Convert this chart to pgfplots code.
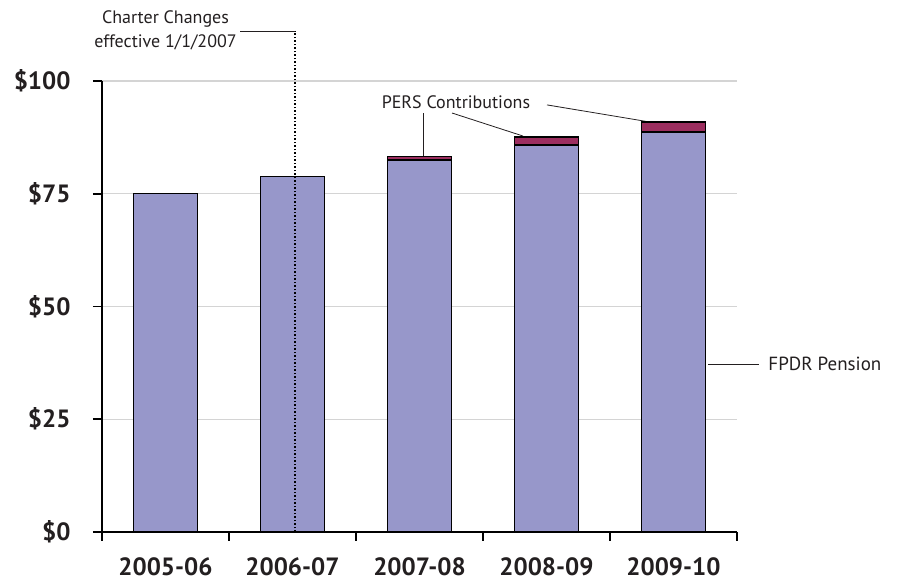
\documentclass[border=0pt]{standalone}
\usepackage{fontspec}
\setmainfont{PT Sans}
\usepackage{pgfplots}
\pgfplotsset{compat=1.18}
\definecolor{fpdr}{HTML}{9797CA}
\definecolor{pers}{HTML}{9C2E5F}
\definecolor{txt}{HTML}{231F20}
\definecolor{gridc}{HTML}{D4D4D4}
\begin{document}
\begin{tikzpicture}[x=1pt,y=1pt]
\begin{axis}[
  at={(102pt,54pt)}, anchor=south west,
  scale only axis, width=635pt, height=451pt,
  xmin=-0.5, xmax=4.5, ymin=0, ymax=100,
  axis x line=bottom, axis y line=left,
  axis line style={-, line width=1.6pt, black},
  ybar stacked, bar width=0.5,
  xtick={-0.5,0.5,...,4.5}, xticklabels={},
  extra x ticks={0,1,2,3,4},
  extra x tick labels={2005-06,2006-07,2007-08,2008-09,2009-10},
  extra x tick style={major tick length=0pt, grid=none,
     tick label style={yshift=-22pt}},
  ytick={0,25,50,75,100}, yticklabels={\$0,\$25,\$50,\$75,\$100},
  ymajorgrids, grid style={gridc, line width=1.2pt},
  tick align=outside, major tick length=9pt,
  tick style={line width=1.6pt, black},
  tick label style={font=\fontsize{25}{25}\selectfont\bfseries, text=txt},
  yticklabel style={xshift=-19pt},
  clip=false,
]
\addplot[fill=fpdr, draw=black, line width=1.3pt] coordinates {(0,75.1) (1,78.8) (2,82.5) (3,85.8) (4,88.7)};
\addplot[fill=pers, draw=black, line width=1.3pt] coordinates {(0,0) (1,0) (2,0.7) (3,1.8) (4,2.2)};

\coordinate (d0) at (axis cs:1.02,0);
\coordinate (d1) at (axis cs:1.02,111);
\coordinate (h0) at (axis cs:0.587,111);

\node[align=center, font=\fontsize{18}{24}\selectfont, text=txt] at (axis cs:0.0,111.3) {Charter Changes\\effective 1/1/2007};

\node[font=\fontsize{18}{24}\selectfont, text=txt] at (axis cs:2.287,95.3) {PERS Contributions};
\draw[line width=0.8pt, txt] (axis cs:2.028,92.9) -- (axis cs:2.028,83.1);
\draw[line width=0.8pt, txt] (axis cs:2.256,92.9) -- (axis cs:2.815,87.8);
\draw[line width=0.8pt, txt] (axis cs:3.004,94.7) -- (axis cs:3.815,90.9);

\draw[line width=0.8pt, txt] (axis cs:4.272,37.25) -- (axis cs:4.673,37.25);
\node[anchor=west, font=\fontsize{19}{24}\selectfont, text=txt] at (axis cs:4.72,37.25) {FPDR Pension};
\end{axis}
\draw[line width=1.5pt, dash pattern=on 1.5pt off 2pt] (d0) -- (d1);
\draw[line width=0.8pt, txt] (h0) -- (d1);
\pgfresetboundingbox
\useasboundingbox (0,0) rectangle (903,586);
\end{tikzpicture}
\end{document}
